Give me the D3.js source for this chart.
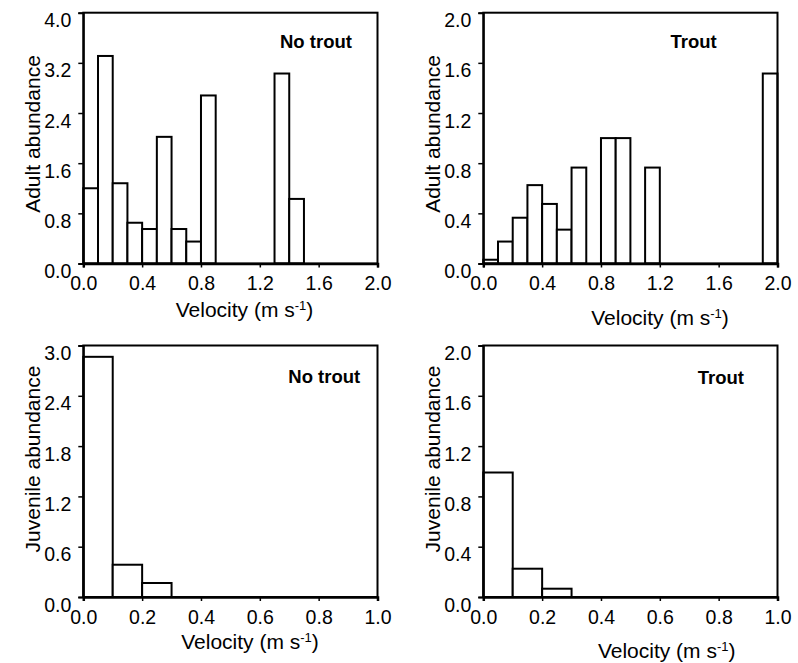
<!DOCTYPE html>
<html>
<head>
<meta charset="utf-8">
<script src="https://cdn.jsdelivr.net/npm/d3@7"></script>
<style>
  html, body { margin: 0; padding: 0; background: #fff; }
  svg { display: block; font-family: Arial, "Liberation Sans", Helvetica, sans-serif; }
</style>
</head>
<body>
<svg id="chart" width="798" height="663"></svg>
<script>
// Abundance per 0.1 m/s velocity bin (bin start velocities below)
const adultBins = d3.range(0, 20).map(i => +(i * 0.1).toFixed(1));
const juvenileBins = d3.range(0, 10).map(i => +(i * 0.1).toFixed(1));

const adultNoTrout = [1.2, 3.31, 1.28, 0.65, 0.55, 2.02, 0.55, 0.35, 2.68, 0, 0, 0, 0, 3.03, 1.03, 0, 0, 0, 0, 0];
const adultTrout   = [0.03, 0.175, 0.365, 0.625, 0.475, 0.27, 0.765, 0, 1.0, 1.0, 0, 0.765, 0, 0, 0, 0, 0, 0, 0, 1.515];
const juvNoTrout   = [2.865, 0.385, 0.167, 0, 0, 0, 0, 0, 0, 0];
const juvTrout     = [0.99, 0.225, 0.066, 0, 0, 0, 0, 0, 0, 0];

// Axis tick labels
const adultXTicks = [0.0, 0.4, 0.8, 1.2, 1.6, 2.0];
const juvXTicks   = [0.0, 0.2, 0.4, 0.6, 0.8, 1.0];
const yTicksNoTroutAdult = [0.0, 0.8, 1.6, 2.4, 3.2, 4.0];
const yTicksTroutAdult   = [0.0, 0.4, 0.8, 1.2, 1.6, 2.0];
const yTicksNoTroutJuv   = [0.0, 0.6, 1.2, 1.8, 2.4, 3.0];
const yTicksTroutJuv     = [0.0, 0.4, 0.8, 1.2, 1.6, 2.0];

const binWidth = 0.1;

const panels = [
  { bins: adultBins, values: adultNoTrout, xMax: 2.0, yMax: 4.0, xTicks: adultXTicks, yTicks: yTicksNoTroutAdult,
    yTitle: "Adult abundance", label: "No trout",
    box: { x0: 83.3, x1: 377.5, y0: 12.7, y1: 263.5 },
    labelPos: { x: 280, y: 47.5 }, yTitlePos: { x: 39.5, y: 134 }, xTitlePos: { x: 244.5, y: 316.5 } },
  { bins: adultBins, values: adultTrout, xMax: 2.0, yMax: 2.0, xTicks: adultXTicks, yTicks: yTicksTroutAdult,
    yTitle: "Adult abundance", label: "Trout",
    box: { x0: 483.3, x1: 777.5, y0: 12.7, y1: 263.5 },
    labelPos: { x: 670.5, y: 48.3 }, yTitlePos: { x: 439.5, y: 134 }, xTitlePos: { x: 660, y: 324.5 } },
  { bins: juvenileBins, values: juvNoTrout, xMax: 1.0, yMax: 3.0, xTicks: juvXTicks, yTicks: yTicksNoTroutJuv,
    yTitle: "Juvenile abundance", label: "No trout",
    box: { x0: 83.3, x1: 377.5, y0: 345.5, y1: 597 },
    labelPos: { x: 288.3, y: 383.3 }, yTitlePos: { x: 39.5, y: 459 }, xTitlePos: { x: 250, y: 648.5 } },
  { bins: juvenileBins, values: juvTrout, xMax: 1.0, yMax: 2.0, xTicks: juvXTicks, yTicks: yTicksTroutJuv,
    yTitle: "Juvenile abundance", label: "Trout",
    box: { x0: 483.3, x1: 777.5, y0: 345.5, y1: 597 },
    labelPos: { x: 697.7, y: 384.3 }, yTitlePos: { x: 439.5, y: 459 }, xTitlePos: { x: 666.7, y: 657.5 } }
];

const svg = d3.select("#chart");
const fmt = d3.format(".1f");

panels.forEach(p => {
  const x = d3.scaleLinear().domain([0, p.xMax]).range([p.box.x0, p.box.x1]);
  const y = d3.scaleLinear().domain([0, p.yMax]).range([p.box.y1, p.box.y0]);
  const g = svg.append("g");

  // histogram bars
  const data = p.bins.map((b, i) => ({ b, v: p.values[i] })).filter(d => d.v > 0);
  g.selectAll("rect.bar").data(data).join("rect")
    .attr("class", "bar")
    .attr("x", d => x(d.b))
    .attr("y", d => y(d.v))
    .attr("width", d => x(d.b + binWidth) - x(d.b))
    .attr("height", d => y(0) - y(d.v))
    .attr("fill", "#fff")
    .attr("stroke", "#000")
    .attr("stroke-width", 2);

  // frame
  g.append("rect")
    .attr("x", p.box.x0).attr("y", p.box.y0)
    .attr("width", p.box.x1 - p.box.x0).attr("height", p.box.y1 - p.box.y0)
    .attr("fill", "none").attr("stroke", "#000").attr("stroke-width", 2);

  // x axis
  const xAxis = g.append("g")
    .attr("transform", `translate(0,${p.box.y1})`)
    .call(d3.axisBottom(x).tickValues(p.xTicks).tickFormat(fmt).tickSize(4).tickPadding(9));
  xAxis.select(".domain").attr("stroke-width", 2.5);
  xAxis.selectAll(".tick line").attr("stroke-width", 1.5);
  xAxis.selectAll(".tick text").attr("font-size", 19.5).attr("fill", "#000");

  // y axis
  const yAxis = g.append("g")
    .attr("transform", `translate(${p.box.x0},0)`)
    .call(d3.axisLeft(y).tickValues(p.yTicks).tickFormat(fmt).tickSize(5).tickPadding(7));
  yAxis.select(".domain").attr("stroke-width", 2);
  yAxis.selectAll(".tick line").attr("stroke-width", 1.5);
  yAxis.selectAll(".tick text").attr("font-size", 19.5).attr("fill", "#000")
    .attr("dy", "0.72em").attr("y", 0);

  // panel label
  g.append("text")
    .attr("x", p.labelPos.x).attr("y", p.labelPos.y)
    .attr("font-size", 18.5).attr("font-weight", "bold").attr("fill", "#000")
    .text(p.label);

  // y title
  g.append("text")
    .attr("transform", `translate(${p.yTitlePos.x},${p.yTitlePos.y}) rotate(-90)`)
    .attr("text-anchor", "middle")
    .attr("font-size", 21).attr("fill", "#000")
    .text(p.yTitle);

  // x title with superscript exponent
  const xt = g.append("text")
    .attr("x", p.xTitlePos.x).attr("y", p.xTitlePos.y)
    .attr("text-anchor", "middle")
    .attr("font-size", 21).attr("fill", "#000");
  xt.append("tspan").text("Velocity (m s");
  xt.append("tspan").attr("font-size", 13).attr("dy", -7).text("-1");
  xt.append("tspan").attr("dy", 7).text(")");
});
</script>
</body>
</html>
